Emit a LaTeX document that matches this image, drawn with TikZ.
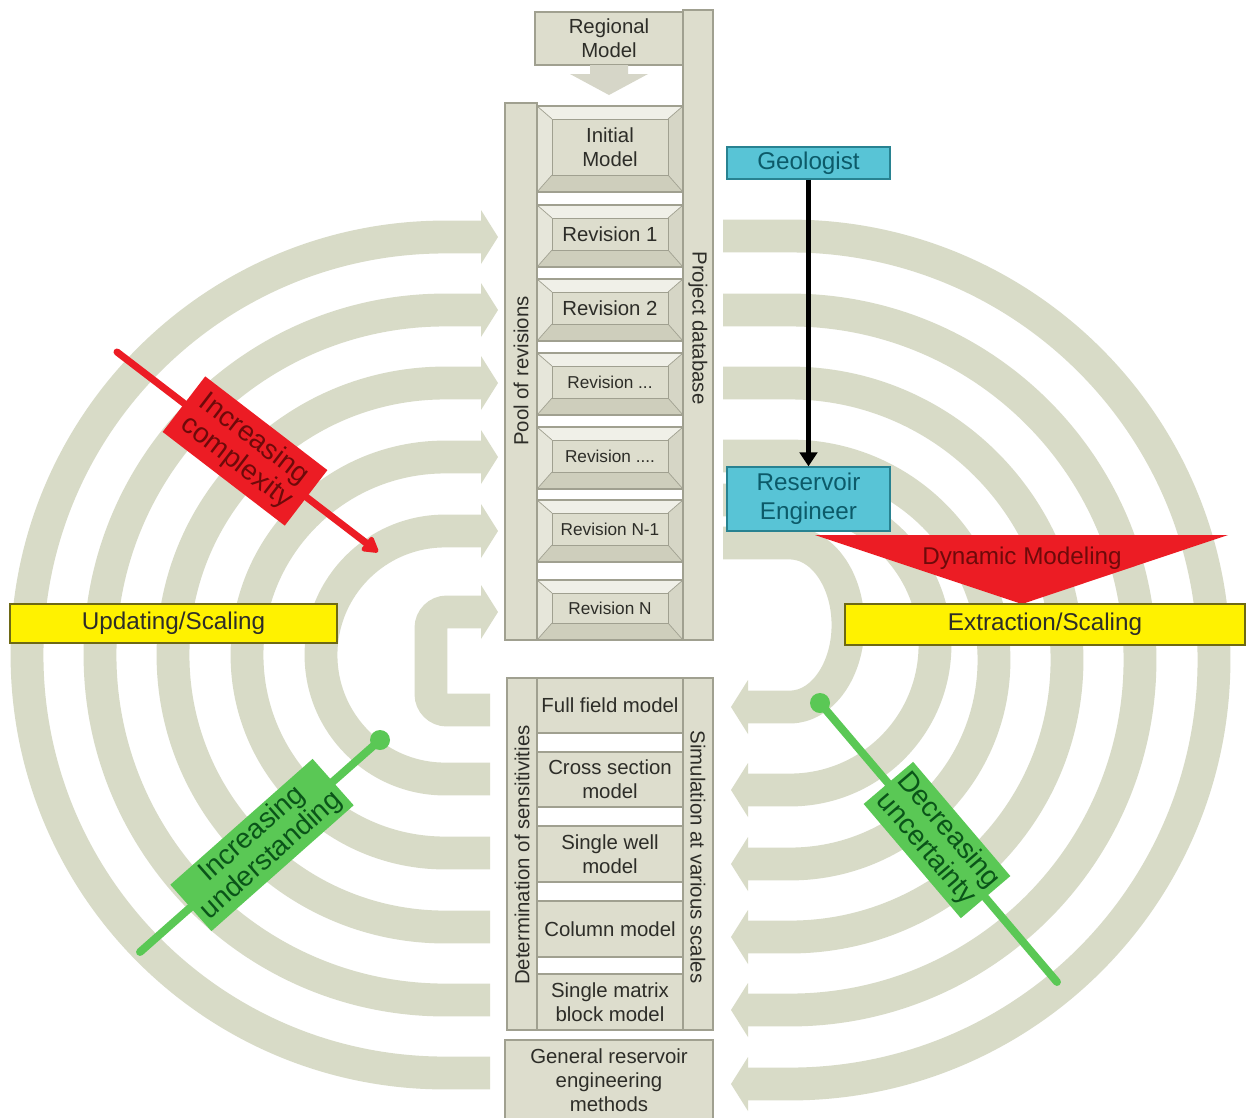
\documentclass[tikz,border=0pt]{standalone}
\usepackage{fontspec}
\setmainfont{Liberation Sans}
\usetikzlibrary{arrows.meta}
\definecolor{bandc}{RGB}{216,219,199}
\definecolor{boxc}{RGB}{221,221,205}
\definecolor{boxline}{RGB}{160,160,144}
\definecolor{bevtop}{RGB}{240,240,232}
\definecolor{bevleft}{RGB}{230,230,218}
\definecolor{bevright}{RGB}{214,214,198}
\definecolor{bevbot}{RGB}{206,206,188}
\definecolor{arrowc}{RGB}{214,214,200}
\definecolor{txtc}{RGB}{45,45,40}
\definecolor{yel}{RGB}{255,242,0}
\definecolor{yelline}{RGB}{110,105,20}
\definecolor{cyanc}{RGB}{88,196,214}
\definecolor{cyanline}{RGB}{40,130,145}
\definecolor{cyantxt}{RGB}{12,90,105}
\definecolor{redc}{RGB}{236,28,36}
\definecolor{redtxt}{RGB}{110,10,10}
\definecolor{greenc}{RGB}{90,200,85}
\definecolor{greentxt}{RGB}{10,85,25}
\newcommand\fA{\fontsize{11.6}{13.6}\selectfont}
\newcommand\fB{\fontsize{9.8}{11.5}\selectfont}
\newcommand\fC{\fontsize{13.8}{16.4}\selectfont}
\newcommand\fD{\fontsize{16}{16.5}\selectfont}
% box from image-pixel corners: style, name, x1, y1, x2, y2, text
\newcommand\pbox[7]{\node[#1, minimum width={((#5)-(#3))*0.02cm}, minimum height={((#6)-(#4))*0.02cm}] (#2) at ({((#3)+(#5))/2},{((#4)+(#6))/2}) {#7};}
\newcommand\bevbox[6]{%
 \fill[bevtop] (#2,#3) -- (#4,#3) -- (#4-15,#3+13) -- (#2+15,#3+13) -- cycle;
 \fill[bevbot] (#2,#5) -- (#4,#5) -- (#4-15,#5-17) -- (#2+15,#5-17) -- cycle;
 \fill[bevleft] (#2,#3) -- (#2+15,#3+13) -- (#2+15,#5-17) -- (#2,#5) -- cycle;
 \fill[bevright] (#4,#3) -- (#4-15,#3+13) -- (#4-15,#5-17) -- (#4,#5) -- cycle;
 \draw[boxline, line width=0.4pt] (#2,#3) -- (#2+15,#3+13) (#4,#3) -- (#4-15,#3+13) (#2,#5) -- (#2+15,#5-17) (#4,#5) -- (#4-15,#5-17);
 \pbox{facebox}{#1}{#2+15}{#3+13}{#4-15}{#5-17}{#6}
 \draw[boxline, line width=0.6pt] (#2,#3) rectangle (#4,#5);
}
\begin{document}
\begin{tikzpicture}[x=0.02cm,y=-0.02cm,
  band/.style={draw=bandc, line width=18.7pt},
  greybox/.style={draw=boxline, fill=boxc, line width=0.6pt, inner sep=0pt, text=txtc, align=center, font=\fA},
  facebox/.style={draw=boxline, fill=boxc, line width=0.4pt, inner sep=0pt, text=txtc, align=center, font=\fA},
  coltext/.style={text=txtc, font=\fA, inner sep=0pt},
  yelbox/.style={draw=yelline, fill=yel, line width=0.8pt, inner sep=0pt, text=txtc, font=\fC},
  cyanbox/.style={draw=cyanline, fill=cyanc, line width=0.8pt, inner sep=0pt, text=cyantxt, align=center, font=\fC},
  redbox/.style={fill=redc, inner sep=1pt, text=redtxt, align=center, font=\fD},
  greenbox/.style={fill=greenc, inner sep=1pt, text=greentxt, align=center, font=\fD},
  greenline/.style={draw=greenc, line width=4.5pt, line cap=round},
]
\path[use as bounding box, fill=white] (0,0) rectangle (1248,1117);

% ---- left bands (flow upward into the revision pool)
\foreach \r in {418,345,272,198,124} {
  \draw[band] (490,655+\r) -- (445,655+\r) arc[start angle=90,end angle=270,radius=\r] -- (481,655-\r);
  \fill[bandc] (481,655-\r-27) -- (498,655-\r) -- (481,655-\r+27) -- cycle;
}
\draw[band, rounded corners=9pt] (490,710) -- (431,710) -- (431,612) -- (481,612);
\fill[bandc] (481,585) -- (498,612) -- (481,639) -- cycle;

% ---- right bands (flow downward into the simulation stack)
\foreach \cy/\r in {660/424,660/350,660/277,660/204,645/145} {
  \draw[band] (723,\cy-\r) -- (790,\cy-\r) arc[start angle=270,end angle=450,radius=\r] -- (748,\cy+\r);
  \fill[bandc] (748,\cy+\r-27) -- (731,\cy+\r) -- (748,\cy+\r+27) -- cycle;
}
\draw[band] (723,543) -- (790,543) arc[start angle=270,end angle=450,x radius=58,y radius=82] -- (748,707);
\fill[bandc] (748,680) -- (731,707) -- (748,734) -- cycle;

% ---- upper central column
\pbox{greybox}{regional}{535}{12}{683}{65}{Regional\\Model}
\fill[arrowc] (590,65) -- (628,65) -- (628,74) -- (648,74) -- (609,95) -- (570,74) -- (590,74) -- cycle;
\pbox{greybox}{projdb}{683}{10}{713}{640}{}
\node[coltext, rotate=-90] (projdbtxt) at (698,328) {Project database};
\pbox{greybox}{pool}{505}{103}{537}{640}{}
\node[coltext, rotate=90] (pooltxt) at (521,371) {Pool of revisions};

\bevbox{initial}{537}{106}{683}{192}{Initial\\Model}
\bevbox{rev1}{537}{205}{683}{267}{Revision 1}
\bevbox{rev2}{537}{279}{683}{341}{Revision 2}
\bevbox{revA}{537}{353}{683}{415}{\fB Revision ...}
\bevbox{revB}{537}{427}{683}{489}{\fB Revision ....}
\bevbox{revN1}{537}{500}{683}{562}{\fB Revision N-1}
\bevbox{revN}{537}{580}{683}{640}{\fB Revision N}

% ---- lower central column
\pbox{greybox}{detcol}{507}{678}{537}{1030}{}
\node[coltext, rotate=90] (dettxt) at (522,855) {Determination of sensitivities};
\pbox{greybox}{simcol}{683}{678}{713}{1030}{}
\node[coltext, rotate=-90] (simtxt) at (698,857) {Simulation at various scales};
\pbox{greybox}{full}{537}{678}{683}{733}{Full field model}
\pbox{greybox}{cross}{537}{752}{683}{807}{Cross section\\model}
\pbox{greybox}{well}{537}{826}{683}{882}{Single well\\model}
\pbox{greybox}{column}{537}{901}{683}{957}{Column model}
\pbox{greybox}{matrix}{537}{974}{683}{1030}{Single matrix\\block model}
\pbox{greybox}{general}{505}{1040}{713}{1120}{General reservoir\\engineering\\methods}

% ---- roles and modelling
\pbox{cyanbox}{geo}{727}{147}{890}{179}{Geologist}
\pbox{cyanbox}{re}{727}{467}{890}{531}{Reservoir\\Engineer}
\draw[line width=3.4pt, -{Triangle[length=8pt,width=10pt]}] (geo.south) -- (re.north);
\fill[redc] (815,535) -- (1228,535) -- (1022,604) -- cycle;
\node[text=redtxt, font=\fC] (dyn) at (1022,558) {Dynamic Modeling};
\pbox{yelbox}{upd}{10}{604}{337}{643}{Updating/Scaling}
\pbox{yelbox}{ext}{845}{604}{1245}{645}{Extraction/Scaling}

% ---- trend annotations
\coordinate (icA) at (117,352);
\coordinate (icB) at (378,552);
\draw[draw=redc, line width=4pt, line cap=round, -{Triangle[length=10pt,width=11pt,round]}] (icA) -- (icB);
\node[redbox, rotate=-37.5, minimum width=3.08cm, minimum height=1.4cm] (ic) at (245,451) {Increasing\\complexity};

\coordinate (iuA) at (140,952);
\coordinate (iuB) at (380,740);
\draw[greenline] (iuA) -- (iuB);
\fill[greenc] (iuB) circle[radius=10];
\node[greenbox, rotate=41.5, minimum width=3.8cm, minimum height=1.24cm] (iu) at (262,845) {Increasing\\understanding};

\coordinate (duA) at (820,703);
\coordinate (duB) at (1057,982);
\draw[greenline] (duA) -- (duB);
\fill[greenc] (duA) circle[radius=10];
\node[greenbox, rotate=-49.6, minimum width=3.0cm, minimum height=1.3cm] (du) at (937,840) {Decreasing\\uncertainty};
\end{tikzpicture}
\end{document}
